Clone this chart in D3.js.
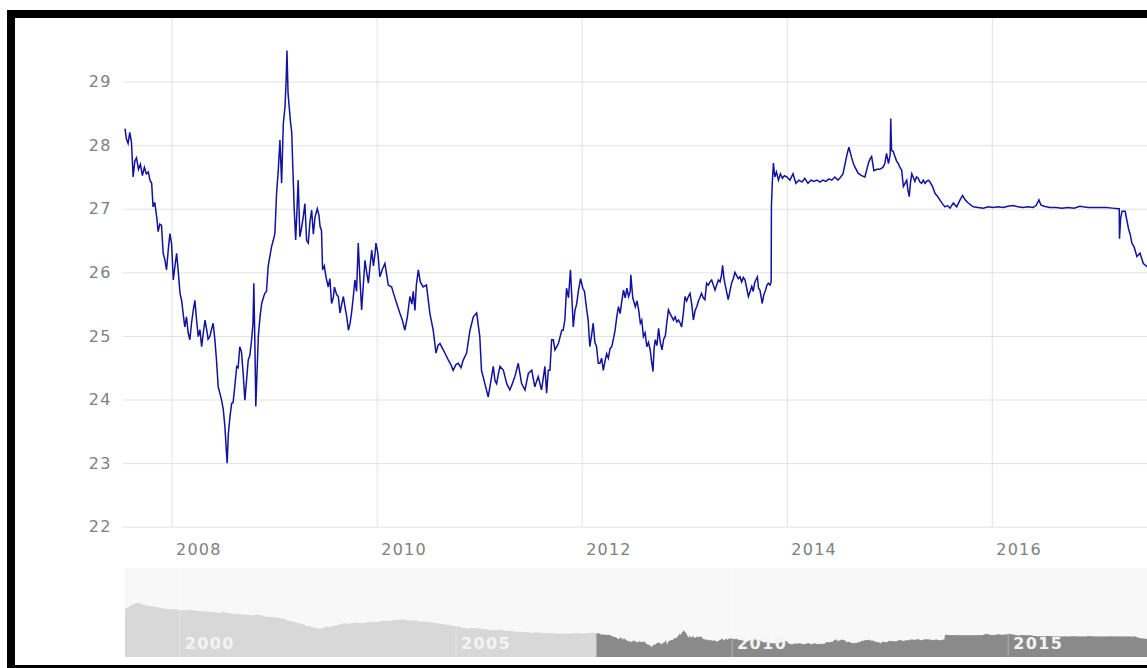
<!DOCTYPE html>
<html><head><meta charset="utf-8">
<script src="https://cdn.jsdelivr.net/npm/d3@7"></script>
<style>
html,body{margin:0;padding:0;background:#fff;}
svg{display:block;}
text{font-family:"DejaVu Sans",Verdana,sans-serif;}
</style></head><body>
<svg id="chart" width="1147" height="668"></svg>
<script>
// ---------- DATA ----------
const yTicks = [22, 23, 24, 25, 26, 27, 28, 29];
const xTickYears = [2008, 2010, 2012, 2014, 2016];
const navLabelYears = [2000, 2005, 2010, 2015];

// navigator-only history (before the zoomed window)
const navPre = [
["1999-01-04",37.2],["1999-01-25",37.6],["1999-02-15",38.5],["1999-03-08",38.9],["1999-03-29",39.3],["1999-04-19",38.9],
["1999-05-10",38.5],["1999-06-07",38.2],["1999-07-05",37.9],["1999-08-02",37.7],["1999-09-06",37.3],["1999-10-04",37.1],
["1999-11-01",36.9],["1999-12-06",36.9],["2000-01-10",36.6],["2000-02-14",36.5],["2000-03-13",36.8],["2000-04-17",36.4],
["2000-05-15",36.2],["2000-06-19",36.1],["2000-07-17",36.0],["2000-08-21",35.8],["2000-09-18",35.6],["2000-10-16",35.9],
["2000-11-13",35.6],["2000-12-18",35.3],["2001-01-22",35.1],["2001-02-19",35.0],["2001-03-19",34.9],["2001-04-23",34.7],
["2001-05-21",34.9],["2001-06-18",34.8],["2001-07-16",34.3],["2001-08-20",34.1],["2001-09-17",34.0],["2001-10-15",33.8],
["2001-11-19",33.4],["2001-12-17",32.8],["2002-01-21",32.4],["2002-02-18",31.9],["2002-03-18",31.6],["2002-04-15",30.8],
["2002-05-13",30.6],["2002-06-17",30.2],["2002-07-15",29.9],["2002-08-05",30.0],["2002-08-26",30.6],["2002-09-23",30.5],
["2002-10-21",30.9],["2002-11-18",31.3],["2002-12-16",31.8],["2003-01-20",31.6],["2003-02-17",31.9],["2003-03-17",32.0],
["2003-04-21",31.8],["2003-05-19",32.1],["2003-06-16",32.4],["2003-07-21",32.2],["2003-08-18",32.5],["2003-09-15",32.8],
["2003-10-20",32.6],["2003-11-17",33.0],["2003-12-15",33.1],["2004-01-12",33.3],["2004-02-09",33.0],["2004-03-08",32.7],
["2004-04-12",32.8],["2004-05-10",32.5],["2004-06-14",32.4],["2004-07-12",32.2],["2004-08-09",32.0],["2004-09-13",31.7],
["2004-10-11",31.5],["2004-11-15",31.2],["2004-12-13",30.8],["2005-01-17",30.6],["2005-02-14",30.2],["2005-03-14",29.9],
["2005-04-18",30.1],["2005-05-16",30.0],["2005-06-13",29.8],["2005-07-18",29.6],["2005-08-15",29.4],["2005-09-19",29.3],
["2005-10-17",29.5],["2005-11-14",29.2],["2005-12-19",29.0],["2006-01-16",28.9],["2006-02-13",28.6],["2006-03-13",28.7],
["2006-04-17",28.6],["2006-05-15",28.3],["2006-06-19",28.5],["2006-07-17",28.4],["2006-08-14",28.2],["2006-09-18",28.3],
["2006-10-16",28.2],["2006-11-13",28.0],["2006-12-18",28.1],["2007-01-15",28.0],["2007-02-12",28.2],["2007-03-19",28.3],
["2007-04-16",28.1],["2007-05-14",28.2],["2007-06-18",28.4]
];

const s2007 = [
["2007-07-19",28.26],["2007-07-24",28.10],["2007-07-30",28.03],["2007-08-05",28.20],["2007-08-11",28.05],["2007-08-17",27.50],
["2007-08-23",27.75],["2007-08-29",27.80],["2007-09-05",27.62],["2007-09-12",27.70],["2007-09-19",27.52],["2007-09-26",27.65],
["2007-10-03",27.55],["2007-10-10",27.58],["2007-10-16",27.45],["2007-10-22",27.40],["2007-10-27",27.03],["2007-11-02",27.10],
["2007-11-09",26.87],["2007-11-14",26.64],["2007-11-20",26.76],["2007-11-26",26.74],["2007-12-02",26.30],["2007-12-08",26.20],
["2007-12-14",26.04],["2007-12-20",26.35],["2007-12-26",26.61]
];
const s2008 = [
["2008-01-01",26.45],["2008-01-07",25.88],["2008-01-13",26.10],["2008-01-19",26.30],["2008-01-25",26.00],["2008-01-31",25.67],
["2008-02-06",25.55],["2008-02-11",25.36],["2008-02-17",25.14],["2008-02-23",25.30],["2008-02-29",25.05],["2008-03-06",24.94],
["2008-03-12",25.20],["2008-03-18",25.40],["2008-03-24",25.56],["2008-03-30",25.25],["2008-04-05",24.99],["2008-04-11",25.10],
["2008-04-17",24.83],["2008-04-23",25.05],["2008-04-29",25.25],["2008-05-05",25.10],["2008-05-10",24.95],["2008-05-16",24.99],
["2008-05-22",25.10],["2008-05-28",25.20],["2008-06-03",24.95],["2008-06-09",24.62],["2008-06-15",24.20],["2008-06-21",24.10],
["2008-06-27",23.99],["2008-07-03",23.85],["2008-07-09",23.57],["2008-07-14",23.20],["2008-07-17",23.00],["2008-07-21",23.45],
["2008-07-27",23.73],["2008-08-02",23.94],["2008-08-07",23.95],["2008-08-13",24.20],["2008-08-20",24.52],["2008-08-25",24.50],
["2008-08-31",24.83],["2008-09-06",24.75],["2008-09-12",24.41],["2008-09-18",23.99],["2008-09-24",24.30],["2008-09-30",24.62],
["2008-10-06",24.70],["2008-10-12",24.94],["2008-10-17",25.20],["2008-10-20",25.83],["2008-10-24",24.80],["2008-10-27",23.89],
["2008-11-01",24.50],["2008-11-05",24.99],["2008-11-11",25.30],["2008-11-17",25.51],["2008-11-23",25.60],["2008-11-28",25.67],
["2008-12-04",25.70],["2008-12-10",26.09],["2008-12-16",26.25],["2008-12-22",26.40],["2008-12-28",26.50]
];
const s2009 = [
["2009-01-03",26.61],["2009-01-09",27.24],["2009-01-15",27.60],["2009-01-21",28.08],["2009-01-27",27.40],["2009-02-02",28.34],
["2009-02-08",28.60],["2009-02-12",29.00],["2009-02-15",29.49],["2009-02-19",28.81],["2009-02-23",28.60],["2009-02-28",28.35],
["2009-03-04",28.20],["2009-03-07",27.77],["2009-03-13",26.98],["2009-03-18",26.51],["2009-03-22",26.90],["2009-03-27",27.45],
["2009-04-02",26.56],["2009-04-08",26.70],["2009-04-14",26.87],["2009-04-20",27.08],["2009-04-26",26.50],["2009-05-02",26.46],
["2009-05-08",26.80],["2009-05-14",26.98],["2009-05-20",26.60],["2009-05-26",26.87],["2009-06-03",27.00],["2009-06-09",26.90],
["2009-06-13",26.72],["2009-06-18",26.66],["2009-06-22",26.04],["2009-06-28",26.10],["2009-07-04",25.93],["2009-07-12",25.77],
["2009-07-18",25.90],["2009-07-24",25.51],["2009-07-30",25.60],["2009-08-03",25.77],["2009-08-11",25.65],["2009-08-17",25.62],
["2009-08-23",25.36],["2009-08-29",25.50],["2009-09-04",25.62],["2009-09-10",25.45],["2009-09-16",25.30],["2009-09-22",25.09],
["2009-09-28",25.20],["2009-10-03",25.36],["2009-10-09",25.60],["2009-10-15",25.88],["2009-10-21",25.70],["2009-10-27",26.46],
["2009-11-02",25.90],["2009-11-08",25.41],["2009-11-14",25.80],["2009-11-20",26.19],["2009-11-26",26.00],["2009-12-02",25.83],
["2009-12-08",26.10],["2009-12-14",26.35],["2009-12-20",26.10],["2009-12-26",26.30],["2009-12-29",26.46]
];
const s2010 = [
["2010-01-05",26.30],["2010-01-12",25.93],["2010-01-21",26.05],["2010-01-30",26.14],["2010-02-11",25.80],["2010-02-23",25.77],
["2010-03-03",25.65],["2010-03-13",25.51],["2010-03-24",25.36],["2010-04-02",25.25],["2010-04-11",25.09],["2010-04-20",25.30],
["2010-04-29",25.62],["2010-05-06",25.50],["2010-05-11",25.70],["2010-05-17",25.40],["2010-05-22",25.80],["2010-05-29",26.04],
["2010-06-05",25.85],["2010-06-15",25.77],["2010-06-27",25.80],["2010-07-09",25.36],["2010-07-21",25.09],["2010-07-31",24.73],
["2010-08-07",24.85],["2010-08-14",24.88],["2010-08-26",24.78],["2010-09-04",24.70],["2010-09-13",24.62],["2010-09-22",24.55],
["2010-09-30",24.46],["2010-10-10",24.55],["2010-10-18",24.57],["2010-10-28",24.50],["2010-11-05",24.62],["2010-11-17",24.73],
["2010-11-29",25.09],["2010-12-11",25.30],["2010-12-23",25.36]
];
const s2011 = [
["2011-01-03",24.99],["2011-01-09",24.46],["2011-01-21",24.25],["2011-02-02",24.04],["2011-02-08",24.20],["2011-02-14",24.36],
["2011-02-20",24.52],["2011-02-26",24.30],["2011-03-04",24.25],["2011-03-10",24.40],["2011-03-16",24.52],["2011-03-28",24.46],
["2011-04-09",24.25],["2011-04-20",24.15],["2011-04-29",24.25],["2011-05-08",24.36],["2011-05-20",24.57],["2011-06-01",24.25],
["2011-06-13",24.15],["2011-06-25",24.41],["2011-07-07",24.46],["2011-07-18",24.20],["2011-07-30",24.36],["2011-08-11",24.15],
["2011-08-23",24.52],["2011-08-29",24.10],["2011-09-04",24.46],["2011-09-10",24.46],["2011-09-16",24.94],["2011-09-22",24.94],
["2011-09-28",24.78],["2011-10-10",24.88],["2011-10-22",25.09],["2011-10-27",25.09],["2011-11-02",25.25],["2011-11-08",25.75],
["2011-11-15",25.60],["2011-11-22",26.04],["2011-11-27",25.60],["2011-12-02",25.14],["2011-12-08",25.40],["2011-12-14",25.50],
["2011-12-20",25.70],["2011-12-28",25.90]
];
const s2012 = [
["2012-01-05",25.75],["2012-01-11",25.70],["2012-01-19",25.41],["2012-01-24",25.25],["2012-01-30",24.83],["2012-02-05",25.00],
["2012-02-11",25.20],["2012-02-17",24.90],["2012-02-23",24.83],["2012-02-29",24.57],["2012-03-06",24.57],["2012-03-12",24.65],
["2012-03-18",24.46],["2012-03-24",24.60],["2012-03-30",24.72],["2012-04-05",24.65],["2012-04-11",24.80],["2012-04-17",24.83],
["2012-04-23",24.95],["2012-04-29",25.09],["2012-05-05",25.30],["2012-05-11",25.46],["2012-05-17",25.35],["2012-05-23",25.55],
["2012-05-29",25.72],["2012-06-04",25.60],["2012-06-10",25.75],["2012-06-16",25.62],["2012-06-22",25.70],["2012-06-24",25.96],
["2012-07-01",25.60],["2012-07-10",25.46],["2012-07-16",25.55],["2012-07-22",25.41],["2012-07-28",25.20],["2012-08-02",25.25],
["2012-08-08",24.99],["2012-08-14",25.05],["2012-08-20",24.83],["2012-08-26",24.90],["2012-09-01",24.78],["2012-09-06",24.60],
["2012-09-11",24.44],["2012-09-15",24.80],["2012-09-19",24.94],["2012-09-25",24.85],["2012-10-01",25.12],["2012-10-07",24.90],
["2012-10-13",24.78],["2012-10-19",24.95],["2012-10-25",25.00],["2012-10-30",25.20],["2012-11-05",25.41],["2012-11-11",25.35],
["2012-11-17",25.30],["2012-11-23",25.25],["2012-11-29",25.30],["2012-12-05",25.22],["2012-12-11",25.25],["2012-12-17",25.20],
["2012-12-22",25.14],["2012-12-28",25.35]
];
const s2013 = [
["2013-01-03",25.62],["2013-01-09",25.55],["2013-01-15",25.62],["2013-01-21",25.67],["2013-01-27",25.50],["2013-02-02",25.25],
["2013-02-08",25.40],["2013-02-14",25.46],["2013-02-20",25.55],["2013-02-25",25.60],["2013-03-03",25.67],["2013-03-09",25.60],
["2013-03-15",25.57],["2013-03-21",25.83],["2013-03-27",25.80],["2013-04-02",25.85],["2013-04-08",25.88],["2013-04-14",25.80],
["2013-04-20",25.72],["2013-04-26",25.80],["2013-05-02",25.88],["2013-05-08",25.85],["2013-05-13",25.95],["2013-05-17",26.11],
["2013-05-22",25.90],["2013-05-25",25.83],["2013-05-31",25.70],["2013-06-06",25.57],["2013-06-12",25.70],["2013-06-18",25.83],
["2013-06-24",25.90],["2013-06-30",26.00],["2013-07-06",25.95],["2013-07-12",25.90],["2013-07-18",25.93],["2013-07-24",25.85],
["2013-07-30",25.92],["2013-08-05",25.88],["2013-08-11",25.75],["2013-08-17",25.62],["2013-08-23",25.70],["2013-08-29",25.78],
["2013-09-03",25.70],["2013-09-09",25.85],["2013-09-18",25.93],["2013-09-22",25.75],["2013-09-27",25.72],["2013-10-02",25.60],
["2013-10-05",25.51],["2013-10-11",25.65],["2013-10-17",25.72],["2013-10-22",25.80],["2013-10-27",25.83],["2013-11-02",25.80],
["2013-11-06",25.85],["2013-11-07",27.05],["2013-11-10",27.40],["2013-11-14",27.72],["2013-11-19",27.50],["2013-11-25",27.58],
["2013-12-02",27.45],["2013-12-09",27.55],["2013-12-16",27.48],["2013-12-23",27.52]
];
const s2014 = [
["2014-01-01",27.50],["2014-01-12",27.45],["2014-01-23",27.55],["2014-02-02",27.40],["2014-02-13",27.45],["2014-02-24",27.42],
["2014-03-06",27.48],["2014-03-17",27.40],["2014-03-28",27.45],["2014-04-07",27.43],["2014-04-18",27.45],["2014-04-29",27.42],
["2014-05-09",27.45],["2014-05-20",27.43],["2014-05-31",27.47],["2014-06-10",27.45],["2014-06-21",27.50],["2014-07-02",27.45],
["2014-07-12",27.50],["2014-07-20",27.55],["2014-07-27",27.70],["2014-08-03",27.85],["2014-08-10",27.97],["2014-08-14",27.90],
["2014-08-20",27.80],["2014-08-26",27.71],["2014-09-01",27.65],["2014-09-12",27.56],["2014-09-24",27.52],["2014-10-06",27.50],
["2014-10-18",27.71],["2014-10-24",27.78],["2014-10-30",27.82],["2014-11-07",27.60],["2014-11-18",27.62],["2014-11-28",27.62],
["2014-12-09",27.65],["2014-12-16",27.71],["2014-12-22",27.87],["2014-12-29",27.71]
];
const s2015 = [
["2015-01-04",27.85],["2015-01-06",28.42],["2015-01-09",27.92],["2015-01-15",27.90],["2015-01-21",27.82],["2015-01-27",27.75],
["2015-02-02",27.71],["2015-02-08",27.65],["2015-02-14",27.61],["2015-02-20",27.35],["2015-02-26",27.40],["2015-03-04",27.45],
["2015-03-08",27.30],["2015-03-13",27.19],["2015-03-17",27.40],["2015-03-22",27.55],["2015-03-27",27.50],["2015-04-02",27.43],
["2015-04-08",27.50],["2015-04-14",27.48],["2015-04-20",27.42],["2015-04-26",27.40],["2015-05-02",27.45],["2015-05-08",27.40],
["2015-05-14",27.43],["2015-05-20",27.45],["2015-05-26",27.42],["2015-06-04",27.35],["2015-06-13",27.24],["2015-06-21",27.20],
["2015-06-30",27.14],["2015-07-09",27.08],["2015-07-18",27.03],["2015-07-27",27.05],["2015-08-05",27.01],["2015-08-17",27.09],
["2015-08-29",27.03],["2015-09-10",27.14],["2015-09-19",27.21],["2015-09-28",27.14],["2015-10-09",27.09],["2015-10-27",27.03],
["2015-11-13",27.02],["2015-12-02",27.01],["2015-12-19",27.03]
];
const s2016 = [
["2016-01-05",27.02],["2016-01-23",27.03],["2016-02-10",27.02],["2016-02-28",27.04],["2016-03-17",27.05],["2016-04-03",27.03],
["2016-04-21",27.02],["2016-05-09",27.03],["2016-05-27",27.02],["2016-06-07",27.05],["2016-06-17",27.14],["2016-06-24",27.06],
["2016-07-05",27.04],["2016-07-26",27.02],["2016-08-17",27.02],["2016-09-07",27.01],["2016-09-29",27.02],["2016-10-20",27.01],
["2016-11-10",27.04],["2016-11-21",27.03],["2016-12-09",27.02],["2016-12-30",27.02]
];
const s2017 = [
["2017-01-21",27.02],["2017-02-11",27.02],["2017-03-05",27.01],["2017-03-28",27.00],["2017-03-30",27.00],["2017-03-31",26.53],
["2017-04-04",26.85],["2017-04-09",26.96],["2017-04-20",26.96],["2017-05-02",26.69],["2017-05-08",26.60],["2017-05-14",26.46],
["2017-05-22",26.40],["2017-06-01",26.25],["2017-06-12",26.30],["2017-06-24",26.14],["2017-07-07",26.09],["2017-07-15",26.08]
];
const viewEndDate = "2017-07-07";

// ---------- BUILD ----------
const parse = d3.timeParse("%Y-%m-%d");
const toRows = arr => arr.map(([d, v]) => ({date: parse(d), value: v}));
const main = toRows([].concat(s2007, s2008, s2009, s2010, s2011, s2012, s2013, s2014, s2015, s2016, s2017));
const navAll = toRows(navPre).concat(main);
const viewEnd = parse(viewEndDate);

const W = 1147, H = 668;
const plotL = 123, plotR = 1147, plotT = 18, plotB = 526.7;
const svg = d3.select("#chart");

const x = d3.scaleTime().domain([main[0].date, viewEnd]).range([125, 1147]);
const y = d3.scaleLinear().domain([22, 30]).range([plotB, plotT]);

// horizontal grid + y labels
const yAxis = d3.axisLeft(y).tickValues(yTicks).tickSize(-(plotR - plotL)).tickPadding(11).tickFormat(d3.format("d"));
const gy = svg.append("g").attr("transform", `translate(${plotL},0)`).call(yAxis);
gy.select(".domain").remove();
gy.selectAll(".tick line").attr("stroke", "#e2e2e2").attr("stroke-width", 1);
gy.selectAll(".tick text").attr("fill", "#808080").style("font-size", "16px").style("letter-spacing", "1.5px");

// vertical grid + x labels
const xAxis = d3.axisBottom(x).tickValues(xTickYears.map(yr => new Date(yr, 0, 1)))
  .tickSize(-(plotB - plotT)).tickFormat(d3.timeFormat("%Y"));
const gx = svg.append("g").attr("transform", `translate(0,${plotB})`).call(xAxis);
gx.select(".domain").remove();
gx.selectAll(".tick line").attr("stroke", "#e2e2e2").attr("stroke-width", 1);
gx.selectAll(".tick text").attr("fill", "#808080").attr("text-anchor", "start")
  .attr("x", 4).attr("y", 28).attr("dy", 0).style("font-size", "16px").style("letter-spacing", "1.2px");

// line
svg.append("clipPath").attr("id", "plotClip").append("rect")
  .attr("x", plotL).attr("y", plotT).attr("width", plotR - plotL).attr("height", plotB - plotT);
const line = d3.line().x(d => x(d.date)).y(d => y(d.value));
svg.append("path").datum(main).attr("clip-path", "url(#plotClip)")
  .attr("fill", "none").attr("stroke", "#1212a0").attr("stroke-width", 1.5)
  .attr("stroke-linejoin", "miter").attr("d", line);

// ---------- NAVIGATOR ----------
const navT = 568, navB = 657;
const xN = d3.scaleTime().domain([navAll[0].date, viewEnd]).range([125, 1147]);
const yN = d3.scaleLinear().domain([19.5, 52]).range([navB, navT]);
svg.append("rect").attr("x", 125).attr("y", navT).attr("width", 1147 - 125).attr("height", navB - navT).attr("fill", "#f8f8f8");
const area = d3.area().x(d => xN(d.date)).y0(navB).y1(d => yN(d.value));
svg.append("path").datum(navAll).attr("fill", "#d8d8d8").attr("d", area);
const selX = xN(main[0].date);
svg.append("clipPath").attr("id", "selClip").append("rect")
  .attr("x", selX).attr("y", navT).attr("width", 1147 - selX).attr("height", navB - navT);
svg.append("path").datum(navAll).attr("clip-path", "url(#selClip)").attr("fill", "#8a8a8a").attr("d", area);

const navYears = svg.append("g").selectAll("g").data(navLabelYears).join("g")
  .attr("transform", d => `translate(${xN(new Date(d, 0, 1))},0)`);
navYears.append("line").attr("y1", navT).attr("y2", navB).attr("stroke", "#ffffff").attr("stroke-opacity", 0.35);
navYears.append("text").attr("x", 5).attr("y", 649).attr("fill", "#f4f4f4")
  .style("font-size", "16px").style("font-weight", "bold").style("letter-spacing", "1.4px").text(d => d);

// ---------- FRAME ----------
svg.append("rect").attr("x", 11).attr("y", 14).attr("width", 1300).attr("height", 655)
  .attr("fill", "none").attr("stroke", "#000").attr("stroke-width", 8);
</script>
</body></html>
